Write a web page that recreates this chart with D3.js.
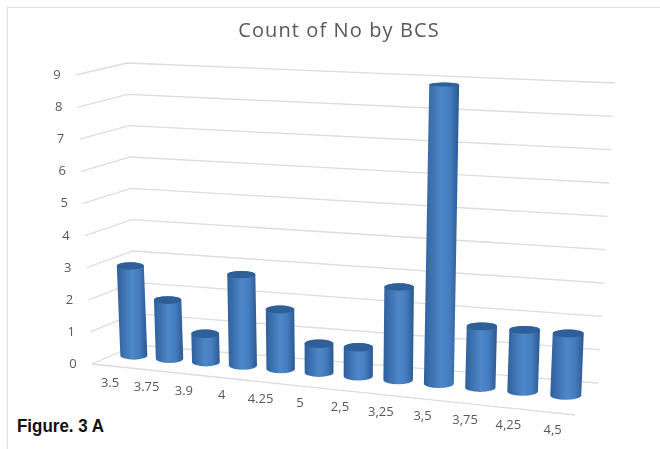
<!DOCTYPE html>
<html>
<head>
<meta charset="utf-8">
<script src="https://d3js.org/d3.v7.min.js"></script>
<style>
  html, body { margin: 0; padding: 0; background: #fff; }
  text { font-family: "Open Sans", "Noto Sans", sans-serif; }
</style>
</head>
<body>
<div id="chart"></div>
<script>
  const categories = ['3.5', '3.75', '3.9', '4', '4.25', '5', '2,5', '3,25', '3,5', '3,75', '4,25', '4,5'];
  const counts = [3, 2, 1, 3, 2, 1, 1, 3, 9, 2, 2, 2];
  const yTicks = [0, 1, 2, 3, 4, 5, 6, 7, 8, 9];

  const width = 660;
  const height = 449;

  const svg = d3.select('#chart')
    .append('svg')
    .attr('width', width)
    .attr('height', height);

  // scales for the corners of the 3d box, each one maps a count to a pixel
  const yDomain = [0, 9];
  const frontLeftX = d3.scaleLinear().domain(yDomain).range([92, 76]);
  const frontLeftY = d3.scaleLinear().domain(yDomain).range([364, 75]);
  const backLeftX = d3.scaleLinear().domain(yDomain).range([136, 127]);
  const backLeftY = d3.scaleLinear().domain(yDomain).range([345, 63]);
  const backRightX = d3.scaleLinear().domain(yDomain).range([598, 615]);
  const backRightY = d3.scaleLinear().domain(yDomain).range([383, 83]);
  const frontRightX = d3.scaleLinear().domain(yDomain).range([575, 584]);
  const frontRightY = d3.scaleLinear().domain(yDomain).range([415, 103]);

  const catScale = d3.scalePoint().domain(categories).range([0, 1]).padding(0.5);

  // short cylinders stand a bit below the grid lines in the picture
  const barHeight = d3.scalePow().exponent(1.06).domain(yDomain).range(yDomain);

  // far end of the axis is squeezed a little, like the perspective in the picture
  const perspective = 1.12;
  const warp = t => t / (t + perspective * (1 - t));

  const lerp = (a, b, t) => a + (b - a) * t;

  // t along the category axis, d from front (0) to back (1), v the count
  function project(t, d, v) {
    const tw = warp(t);
    const fx = lerp(frontLeftX(v), frontRightX(v), tw);
    const fy = lerp(frontLeftY(v), frontRightY(v), tw);
    const bx = lerp(backLeftX(v), backRightX(v), tw);
    const by = lerp(backLeftY(v), backRightY(v), tw);
    return [lerp(fx, bx, d), lerp(fy, by, d)];
  }

  const defs = svg.append('defs');
  const grad = defs.append('linearGradient').attr('id', 'cyl');
  grad.append('stop').attr('offset', '0%').attr('stop-color', '#2f5f9c');
  grad.append('stop').attr('offset', '50%').attr('stop-color', '#4f88ca');
  grad.append('stop').attr('offset', '75%').attr('stop-color', '#437bbd');
  grad.append('stop').attr('offset', '100%').attr('stop-color', '#2b5890');
  defs.append('filter').attr('id', 'soft')
    .append('feGaussianBlur').attr('stdDeviation', 0.7);
  defs.append('filter').attr('id', 'softText')
    .append('feGaussianBlur').attr('stdDeviation', 0.35);

  // chart frame
  svg.append('path')
    .attr('d', 'M7.5,449V7.5H660')
    .attr('fill', 'none')
    .attr('stroke', '#e0e0e0')
    .attr('stroke-width', 1.2);

  svg.append('text')
    .attr('x', 339)
    .attr('y', 37)
    .attr('text-anchor', 'middle')
    .attr('fill', '#595959')
    .attr('filter', 'url(#softText)')
    .style('font-size', '20px')
    .style('letter-spacing', '1.1px')
    .text('Count of No by BCS');

  // grid lines
  const line = d3.line();
  const grid = svg.append('g')
    .attr('fill', 'none')
    .attr('stroke', '#dcdcdc')
    .attr('stroke-width', 1.3)
    .attr('filter', 'url(#softText)');
  grid.selectAll('path')
    .data(yTicks)
    .enter()
    .append('path')
    .attr('d', d => line([
      [frontLeftX(d), frontLeftY(d)],
      [backLeftX(d), backLeftY(d)],
      [backRightX(d), backRightY(d)]
    ]));

  // front edge of the floor
  grid.append('path')
    .attr('d', line([
      [frontLeftX(0), frontLeftY(0)],
      [frontRightX(0), frontRightY(0)]
    ]));

  svg.append('g')
    .attr('filter', 'url(#softText)')
    .selectAll('text')
    .data(yTicks)
    .enter()
    .append('text')
    .attr('x', d => frontLeftX(d) - 19)
    .attr('y', d => frontLeftY(d) + 4)
    .attr('text-anchor', 'middle')
    .attr('fill', '#595959')
    .style('font-size', '13px')
    .text(d => d);

  svg.append('g')
    .attr('filter', 'url(#softText)')
    .selectAll('text')
    .data(categories.map((c, i) => i))
    .enter()
    .append('text')
    .attr('x', i => project(catScale(categories[i]), 0, 0)[0])
    .attr('y', i => project(catScale(categories[i]), 0, 0)[1] + 21)
    .attr('text-anchor', 'middle')
    .attr('fill', '#595959')
    .style('font-size', '13px')
    .text(i => categories[i]);

  // cylinders
  const barDepth = 0.55;
  const radius = d3.scaleLinear().domain([0, 11]).range([13.5, 15.5]);
  const capRy = d3.scaleLinear().domain(yDomain).range([4.5, 2]);

  const bars = svg.append('g').attr('filter', 'url(#soft)')
    .selectAll('g')
    .data(counts)
    .enter()
    .append('g');

  bars.append('path')
    .attr('fill', 'url(#cyl)')
    .attr('d', (d, i) => {
      const t = catScale(categories[i]);
      const r = radius(i);
      const base = project(t, barDepth, 0);
      const top = project(t, barDepth, barHeight(d));
      const ryB = capRy(0);
      const ryT = capRy(d);
      return `M${top[0] - r},${top[1]}L${base[0] - r},${base[1]}` +
        `A${r},${ryB} 0 0 0 ${base[0] + r},${base[1]}` +
        `L${top[0] + r},${top[1]}` +
        `A${r},${ryT} 0 0 0 ${top[0] - r},${top[1]}Z`;
    });

  bars.append('ellipse')
    .attr('fill', '#2f5f98')
    .attr('cx', (d, i) => project(catScale(categories[i]), barDepth, barHeight(d))[0])
    .attr('cy', (d, i) => project(catScale(categories[i]), barDepth, barHeight(d))[1])
    .attr('rx', (d, i) => radius(i))
    .attr('ry', d => capRy(d));

  svg.append('text')
    .attr('x', 17)
    .attr('y', 432)
    .attr('fill', '#111')
    .attr('textLength', 87)
    .attr('lengthAdjust', 'spacingAndGlyphs')
    .style('font-family', '"Liberation Sans Narrow", "Liberation Sans", sans-serif')
    .style('font-weight', 'bold')
    .style('font-size', '18px')
    .text('Figure. 3 A');
</script>
</body>
</html>
